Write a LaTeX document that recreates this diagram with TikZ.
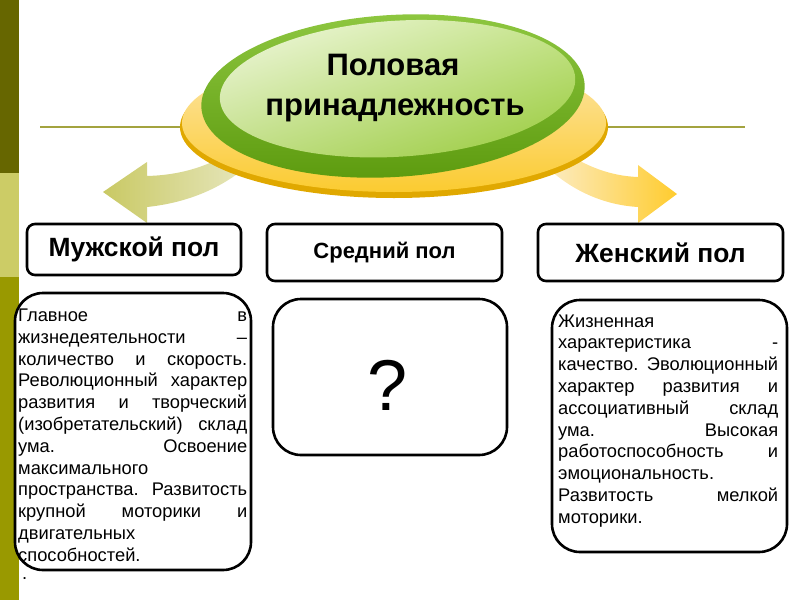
\documentclass[tikz,border=0pt]{standalone}
\usepackage{fontspec}
\setmainfont{Liberation Sans}
\usetikzlibrary{shapes.geometric,shadings}
\definecolor{barA}{HTML}{666600}
\definecolor{barB}{HTML}{CCCC66}
\definecolor{barC}{HTML}{999900}
\definecolor{rulecol}{HTML}{A3A33F}
\definecolor{khakiA}{HTML}{C9C964}
\definecolor{khakiB}{HTML}{E6E6BC}
\definecolor{goldA}{HTML}{FFCC2E}
\definecolor{goldB}{HTML}{FCEBC0}
\definecolor{ringDark}{HTML}{E0A800}
\definecolor{ringTop}{HTML}{FDE6AE}
\definecolor{ringBot}{HTML}{FBCB30}
\definecolor{grA}{HTML}{8DC63F}
\definecolor{grB}{HTML}{5C9A0E}
\definecolor{inUL}{HTML}{F3F9E4}
\definecolor{inUR}{HTML}{C6E48C}
\definecolor{inLL}{HTML}{C0DE84}
\definecolor{inLR}{HTML}{94C834}
\newcommand\JL[2][229pt]{\hbox to #1{\strut #2}}
\newcommand\LL[2][229pt]{\hbox to #1{\strut #2\hfil}}
\tikzset{
  labelbox/.style={draw=black, line width=2.6pt, rounded corners=8pt, fill=white, inner sep=0pt},
  textbox/.style={draw=black, line width=2.6pt, rounded corners=28pt, fill=white, inner sep=0pt},
  bodytext/.style={inner sep=0pt, anchor=north west, align=left, font=\fontsize{18.3}{21.8}\selectfont},
  bigfont/.style={font=\fontsize{26.4}{31}\selectfont\bfseries},
  midfont/.style={font=\fontsize{22}{26}\selectfont\bfseries},
  titlefont/.style={font=\fontsize{31}{38}\selectfont\bfseries, inner sep=0pt, anchor=base},
}
\begin{document}
\begin{tikzpicture}[x=1pt,y=-1pt]
\useasboundingbox (0,0) rectangle (800,600);
% side bar
\fill[barA] (0,0) rectangle (19,173);
\fill[barB] (0,173) rectangle (19,277);
\fill[barC] (0,277) rectangle (19,600);
% horizontal rule
\coordinate (ruleL) at (40,127);
\coordinate (ruleR) at (745,127);
\draw[rulecol, line width=1.6pt] (ruleL) -- (ruleR);
% arrows
\shade[left color=khakiA, right color=khakiB]
  (147,162) -- (103,192) -- (147,223) -- (147,207)
  .. controls (185,203) and (218,190) .. (245,168)
  -- (238,148) .. controls (210,166) and (182,175) .. (147,176) -- cycle;
\shade[left color=goldB, right color=goldA]
  (638,165) -- (677,194) -- (638,223) -- (638,207)
  .. controls (605,205) and (575,192) .. (550,170)
  -- (562,150) .. controls (585,166) and (610,176) .. (638,177) -- cycle;
% yellow ring
\fill[ringDark] (394,127) ellipse [x radius=214, y radius=71];
\shade[top color=ringTop, bottom color=ringBot] (394,123) ellipse [x radius=212, y radius=69];
% green ellipse
\begin{scope}[rotate around={3.5:(393,96)}]
  \shade[top color=grA, bottom color=grB] (393,96) ellipse [x radius=192, y radius=81];
  \shade[upper left=inUL, upper right=inUR, lower left=inLL, lower right=inLR] (398,89) ellipse [x radius=178, y radius=68];
\end{scope}
\node[titlefont] (title1) at (393,75) {Половая};
\node[titlefont] (title2) at (395,115) {принадлежность};
% label boxes
\node[labelbox, bigfont, minimum width=214pt, minimum height=51pt] (male) at (134,249.5) {Мужской пол};
\node[labelbox, midfont, minimum width=235pt, minimum height=57pt] (mid) at (384.5,252.5) {Средний пол};
\node[labelbox, bigfont, minimum width=245pt, minimum height=57pt] (female) at (660.5,252.5) {Женский пол};
% text boxes
\node[textbox, minimum width=236pt, minimum height=277pt] (malebox) at (133,431.5) {};
\node[textbox, minimum width=234pt, minimum height=156pt] (midbox) at (390,377) {};
\node[textbox, minimum width=235pt, minimum height=252pt] (femalebox) at (669.5,426) {};
\node[inner sep=0pt, anchor=base, font=\fontsize{72}{80}\selectfont] (q) at (388,410) {?};
\node[bodytext, text width=229pt] (maletext) at (18,306) {%
\JL{Главное\hfill в}
\JL{жизнедеятельности\hfill –}
\JL{количество\hfill и\hfill скорость.}
\JL{Революционный\hfill характер}
\JL{развития\hfill и\hfill творческий}
\JL{(изобретательский)\hfill склад}
\JL{ума.\hfill Освоение}
\LL{максимального}
\JL{пространства.\hfill Развитость}
\JL{крупной\hfill моторики\hfill и}
\LL{двигательных}
\LL{способностей.}};
\node[bodytext, anchor=base west] (dot) at (22,579) {.};
\node[bodytext, text width=220pt] (femaletext) at (558,311.7) {%
\LL[220pt]{Жизненная}
\JL[220pt]{характеристика\hfill -}
\JL[220pt]{качество.\hfill Эволюционный}
\JL[220pt]{характер\hfill развития\hfill и}
\JL[220pt]{ассоциативный\hfill склад}
\JL[220pt]{ума.\hfill Высокая}
\JL[220pt]{работоспособность\hfill и}
\LL[220pt]{эмоциональность.}
\JL[220pt]{Развитость\hfill мелкой}
\LL[220pt]{моторики.}};
\end{tikzpicture}
\end{document}
